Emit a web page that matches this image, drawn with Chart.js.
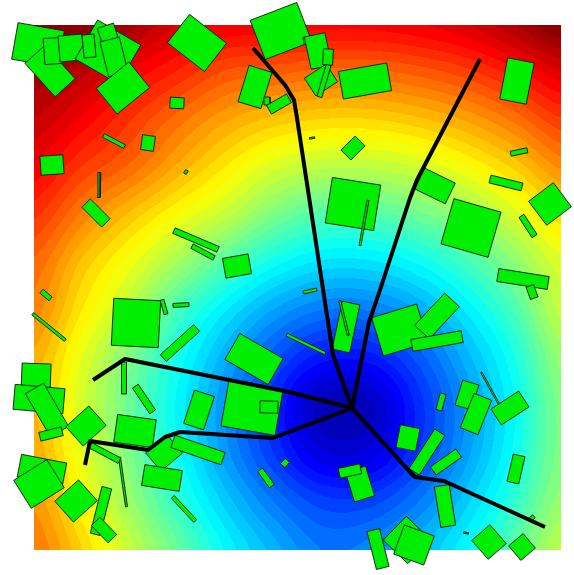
<!DOCTYPE html>
<html>
<head>
<meta charset="utf-8">
<script src="https://cdn.jsdelivr.net/npm/chart.js@4"></script>
<style>
  html, body { margin: 0; padding: 0; background: #ffffff; }
  #wrap { width: 574px; height: 575px; }
</style>
</head>
<body>
<div id="wrap"><canvas id="map" width="574" height="575"></canvas></div>
<script>
// Study area extent (metres); the view adds a white margin around it
const extentX = [0, 527];
const extentY = [0, 525];
const viewX = [-34, 540];
const viewY = [-25, 550];

// Travel-time surface (minutes), sampled every 48 m; rows run south (y = 0) to north
const gridStep = 48;
const travelTime = [
  [34.0, 30.0, 25.5, 21.3, 16.8, 13.5, 11.0, 11.5, 13.8, 16.8, 20.8, 25.2],
  [32.8, 28.2, 23.6, 18.9, 14.6, 11.0,  8.5,  8.6, 11.0, 14.7, 18.9, 23.5],
  [31.8, 27.0, 22.3, 17.3, 12.4,  8.0,  4.3,  4.4,  8.1, 12.6, 17.3, 22.5],
  [31.1, 26.3, 21.5, 16.7, 12.0,  7.2,  2.6,  2.8,  7.4, 12.2, 16.9, 22.5],
  [31.7, 27.0, 22.3, 17.7, 13.3,  9.3,  6.4,  6.5,  9.4, 13.5, 17.9, 23.5],
  [33.5, 29.0, 25.0, 19.9, 16.1, 12.9, 11.0, 11.1, 13.0, 16.2, 20.1, 25.5],
  [34.8, 30.8, 27.5, 24.0, 20.5, 17.5, 15.8, 15.8, 17.2, 19.7, 23.0, 26.7],
  [37.3, 33.8, 30.8, 28.0, 25.5, 22.3, 20.5, 20.6, 21.7, 23.7, 26.5, 29.8],
  [39.8, 37.0, 34.8, 31.8, 29.0, 26.5, 25.3, 25.3, 26.2, 28.0, 30.3, 33.3],
  [42.0, 39.8, 37.2, 34.6, 32.3, 30.8, 30.1, 30.1, 30.9, 32.3, 34.4, 37.0],
  [44.0, 42.5, 40.0, 38.0, 36.0, 35.5, 34.9, 34.9, 35.6, 36.8, 38.7, 41.0],
  [47.0, 45.5, 43.5, 41.0, 40.0, 39.7, 39.5, 39.5, 40.0, 41.0, 43.0, 45.2]
];

// Colour classes for the surface
const timeRange = [0, 45];
const timeLevels = 45;

// Buildings: [centre x, centre y, width, depth, rotation (degrees clockwise)]
const buildings = [
  [4, 505, 47, 37, 10], [16, 479, 45, 27, 48], [19, 499, 18, 26, -4], [37, 502, 24, 26, -5],
  [74, 498, 50, 45, 30], [55, 504, 12, 23, -5], [76, 510, 17, 30, -18], [80, 493, 20, 36, -14],
  [89, 462, 42, 33, -39], [163, 507, 47, 36, 38], [247, 519, 50, 42, -21], [221, 463, 24, 38, 17],
  [233, 449, 6, 8, 0], [245, 446, 23, 10, -30], [143, 447, 14, 11, 3], [80, 409, 24, 4, 28],
  [114, 407, 13, 15, 8], [18, 385, 23, 19, -4], [65, 365, 3, 25, 2], [62, 337, 28, 12, 45],
  [152, 378, 3, 4, 30], [162, 310, 48, 6, 23], [169, 298, 25, 5, 28], [203, 284, 26, 20, -10],
  [275, 510, 11, 7, -10], [284, 499, 21, 33, -12], [294, 493, 10, 16, 3], [287, 470, 26, 21, -33],
  [290, 469, 5, 33, 16], [331, 469, 49, 28, -10], [319, 402, 20, 14, -45], [278, 412, 5, 1.5, -10],
  [319, 346, 49, 46, 9], [330, 327, 2, 46, 10], [401, 364, 34, 23, 26], [437, 322, 49, 47, 16],
  [483, 469, 27, 42, 11], [485, 398, 17, 5, -12], [472, 367, 33, 8, 14], [516, 346, 31, 30, -37],
  [494, 324, 6, 24, -33], [489, 271, 51, 13, 9], [498, 258, 8, 13, -20], [276, 259, 14, 3, -12],
  [147, 245, 16, 4, -3], [312, 223, 18, 49, 12], [310, 232, 2, 36, -14], [366, 220, 47, 40, -17],
  [403, 234, 44, 20, -47], [403, 209, 51, 12, -10], [272, 206, 43, 3, 26], [433, 155, 17, 26, 17],
  [407, 148, 6, 17, 15], [442, 136, 19, 37, 22], [476, 142, 33, 19, -33], [456, 162, 1.5, 36, -29],
  [374, 112, 20, 23, 11], [393, 98, 12, 47, 33], [412, 88, 31, 10, -35], [482, 81, 12, 28, 13],
  [326, 66, 21, 31, -17], [316, 79, 22, 10, -12], [411, 44, 15, 41, -9], [344, 1, 13, 39, -14],
  [373, 10, 33, 34, -46], [380, 5, 32, 31, 20], [455, 8, 24, 25, -41], [488, 3, 19, 19, -40],
  [432, 17, 5, 1.5, 10], [498, 32, 5, 4, -40], [12, 255, 12, 5, 40], [15, 223, 42, 3, 39],
  [102, 227, 47, 47, 3], [130, 243, 4, 15, -16], [146, 207, 45, 9, -42], [90, 172, 5, 32, 0],
  [110, 151, 7, 31, -34], [220, 191, 50, 30, 30], [218, 142, 55, 46, 10], [235, 143, 18, 12, 2],
  [165, 140, 21, 35, 18], [251, 87, 6, 7, 40], [2, 170, 29, 33, 2], [5, 151, 50, 25, 5],
  [13, 140, 21, 50, -30], [17, 116, 23, 9, -14], [52, 124, 31, 26, -42], [8, 80, 46, 23, 11],
  [5, 66, 39, 33, -32], [42, 49, 32, 28, -42], [67, 39, 10, 48, 14], [70, 20, 12, 24, -44],
  [89, 68, 2, 50, -8], [71, 97, 33, 6, 28], [101, 119, 39, 28, 8], [130, 97, 28, 24, -40],
  [164, 100, 53, 13, 19], [128, 72, 38, 21, 9], [150, 41, 33, 4, 47], [232, 72, 20, 6, 54]
];

// Road network: vertices [x, y] of each road, all meeting at the central junction
const roadNorthWest = [[219, 502], [251, 465], [260, 450], [263, 432], [299, 195], [318, 142]];
const roadNorthEast = [[446, 491], [383, 370], [376, 352], [346, 260], [335, 228], [318, 142]];
const roadWest = [[59, 170], [91, 191], [255, 158], [318, 142]];
const roadSouthWest = [[51, 85], [56, 109], [114, 100], [131, 113], [146, 118], [239, 112], [318, 142]];
const roadSouthEast = [[318, 142], [376, 78], [381, 73], [410, 69], [511, 23]];
const roads = [roadNorthWest, roadNorthEast, roadWest, roadSouthWest, roadSouthEast];

// ---- rendering helpers ----
function jet(t) {
  const c = v => Math.max(0, Math.min(1, v));
  return [c(1.5 - Math.abs(4 * t - 3)), c(1.5 - Math.abs(4 * t - 2)), c(1.5 - Math.abs(4 * t - 1))]
    .map(v => Math.round(v * 255));
}
const levelColours = Array.from({ length: timeLevels }, (_, k) => jet((k + 0.5) / timeLevels));

function gridValue(r, c) {
  const rows = travelTime.length, cols = travelTime[0].length;
  r = Math.max(0, Math.min(rows - 1, r));
  c = Math.max(0, Math.min(cols - 1, c));
  return travelTime[r][c];
}
function catmull(p0, p1, p2, p3, t) {
  return p1 + 0.5 * t * (p2 - p0 + t * (2 * p0 - 5 * p1 + 4 * p2 - p3 + t * (3 * (p1 - p2) + p3 - p0)));
}
function surfaceAt(gx, gy) {
  const c = Math.floor(gx), r = Math.floor(gy);
  const tx = gx - c, ty = gy - r;
  const col = [];
  for (let k = -1; k <= 2; k++) {
    col.push(catmull(gridValue(r + k, c - 1), gridValue(r + k, c), gridValue(r + k, c + 1), gridValue(r + k, c + 2), tx));
  }
  return catmull(col[0], col[1], col[2], col[3], ty);
}

// Draws the classified travel-time surface over the study extent, beneath the datasets
const surfacePlugin = {
  id: 'surface',
  beforeDatasetsDraw(chart) {
    const { ctx, scales: { x, y } } = chart;
    const left = Math.round(x.getPixelForValue(extentX[0]));
    const right = Math.round(x.getPixelForValue(extentX[1]));
    const top = Math.round(y.getPixelForValue(extentY[1]));
    const bottom = Math.round(y.getPixelForValue(extentY[0]));
    const w = right - left, h = bottom - top;
    const off = document.createElement('canvas');
    off.width = w; off.height = h;
    const octx = off.getContext('2d');
    const img = octx.createImageData(w, h);
    const span = timeRange[1] - timeRange[0];
    for (let j = 0; j < h; j++) {
      const gy = y.getValueForPixel(top + j + 0.5) / gridStep;
      for (let i = 0; i < w; i++) {
        const gx = x.getValueForPixel(left + i + 0.5) / gridStep;
        const v = surfaceAt(gx, gy);
        let lev = Math.floor((v - timeRange[0]) / span * timeLevels);
        lev = Math.max(0, Math.min(timeLevels - 1, lev));
        const col = levelColours[lev];
        const p = (j * w + i) * 4;
        img.data[p] = col[0]; img.data[p + 1] = col[1]; img.data[p + 2] = col[2]; img.data[p + 3] = 255;
      }
    }
    octx.putImageData(img, 0, 0);
    ctx.drawImage(off, left, top);
  }
};

function footprint([cx, cy, w, h, rot]) {
  const ang = rot * Math.PI / 180, c = Math.cos(ang), s = Math.sin(ang);
  const corners = [[-w / 2, -h / 2], [w / 2, -h / 2], [w / 2, h / 2], [-w / 2, h / 2], [-w / 2, -h / 2]];
  return corners.map(([u, v]) => ({ x: cx + u * c - v * s, y: cy - (u * s + v * c) }));
}

const datasets = [
  ...buildings.map((b, i) => ({
    data: footprint(b),
    showLine: true,
    fill: 'shape',
    backgroundColor: '#00ee00',
    borderColor: 'rgba(20,20,20,0.9)',
    borderWidth: 1,
    pointRadius: 0,
    tension: 0,
    clip: false,
    order: -i
  })),
  ...roads.map(r => ({
    data: r.map(([x, y]) => ({ x, y })),
    showLine: true,
    fill: false,
    borderColor: '#000000',
    borderWidth: 4,
    borderJoinStyle: 'round',
    pointRadius: 0,
    tension: 0,
    clip: false,
    order: -1000
  }))
];

new Chart(document.getElementById('map'), {
  type: 'scatter',
  data: { datasets },
  options: {
    responsive: false,
    animation: false,
    events: [],
    layout: { padding: 0 },
    plugins: { legend: { display: false }, tooltip: { enabled: false } },
    scales: {
      x: { type: 'linear', display: false, min: viewX[0], max: viewX[1] },
      y: { type: 'linear', display: false, min: viewY[0], max: viewY[1] }
    }
  },
  plugins: [surfacePlugin]
});
</script>
</body>
</html>
